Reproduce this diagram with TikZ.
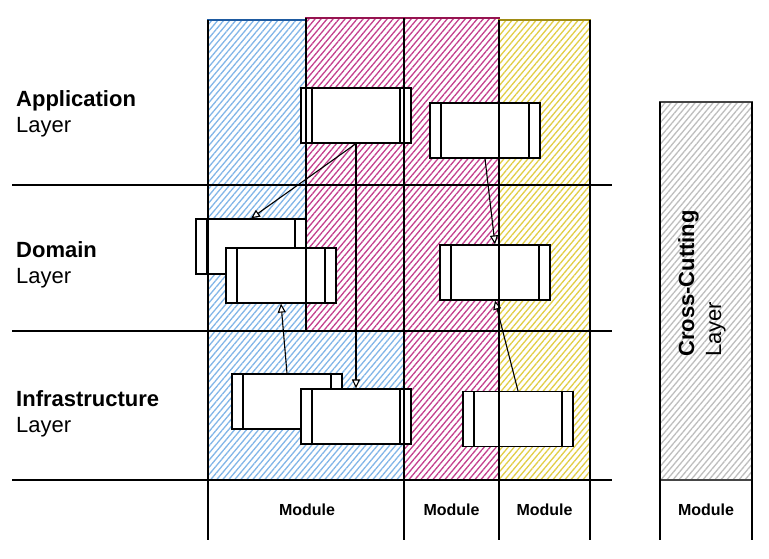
\documentclass[tikz,border=0pt]{standalone}
\usepackage{fontspec}
\setmainfont{Liberation Sans}
\usetikzlibrary{patterns.meta,arrows.meta}
\definecolor{bluehatch}{RGB}{130,182,232}
\definecolor{blueborder}{RGB}{30,90,160}
\definecolor{maghatch}{RGB}{196,64,142}
\definecolor{magborder}{RGB}{150,20,80}
\definecolor{yelhatch}{RGB}{226,206,70}
\definecolor{yelborder}{RGB}{160,140,20}
\definecolor{grayhatch}{RGB}{190,190,190}
\definecolor{grayborder}{RGB}{70,70,70}
\begin{document}
\begin{tikzpicture}[x=1pt,y=-1pt,
  comp/.style={draw=black, line width=1.2pt, fill=white, minimum width=110pt, minimum height=55pt, inner sep=0pt,
    path picture={
      \draw[line width=1.2pt] ([xshift=11pt]path picture bounding box.south west) -- ([xshift=11pt]path picture bounding box.north west);
      \draw[line width=1.2pt] ([xshift=-11pt]path picture bounding box.south east) -- ([xshift=-11pt]path picture bounding box.north east);}},
  dep/.style={line width=1.1pt, -{Triangle[open,length=9pt,width=8pt,fill=white]}},
  gridline/.style={line width=1.1pt, black},
  hatch/.style={pattern={Lines[angle=50,distance=4.6pt,line width=1.3pt]}},
  big/.style={font=\fontsize{22pt}{26pt}\selectfont, inner sep=0pt},
  small/.style={font=\fontsize{16pt}{19pt}\selectfont\bfseries, inner sep=0pt}
]
\useasboundingbox (0,0) rectangle (769,559);
\fill[white] (0,0) rectangle (769,559);

% hatched module regions
\fill[hatch, pattern color=bluehatch] (208,20) -- (306,20) -- (306,331) -- (404,331) -- (404,480) -- (208,480) -- cycle;
\fill[hatch, pattern color=maghatch] (306,18) -- (499,18) -- (499,480) -- (404,480) -- (404,331) -- (306,331) -- cycle;
\fill[hatch, pattern color=yelhatch] (499,20) -- (590,20) -- (590,480) -- (499,480) -- cycle;
\fill[hatch, pattern color=grayhatch] (660,102) -- (752,102) -- (752,480) -- (660,480) -- cycle;

% components
\node[comp] (A1) at (356,115.5) {};
\node[comp] (A2) at (485,130.5) {};
\node[comp] (D1) at (251,246.5) {};
\node[comp] (D2) at (281,275.5) {};
\node[comp] (D3) at (495,272.5) {};
\node[comp] (I1) at (287,401.5) {};
\node[comp] (I2) at (356,416.5) {};
\node[comp] (I3) at (518,419) {};

% dependencies
\draw[dep] (A1.south) -- (D1.north);
\draw[dep] (A1.south) -- (I2.north);
\draw[dep] (A2.south) -- (D3.north);
\draw[dep] (I1.north) -- (D2.south);
\draw[dep] (I3.north) -- (D3.south);

% region borders
\draw[blueborder, line width=1.1pt] (208,20) -- (306,20) -- (306,331) -- (404,331) -- (404,480) -- (208,480) -- cycle;
\draw[magborder, line width=1.1pt] (306,18) -- (499,18) -- (499,480) -- (404,480) -- (404,331) -- (306,331) -- cycle;
\draw[yelborder, line width=1.1pt] (499,20) -- (590,20) -- (590,480) -- (499,480) -- cycle;
\draw[grayborder, line width=1.1pt] (660,102) -- (752,102) -- (752,480) -- (660,480) -- cycle;

% grid lines
\draw[gridline] (12,185) -- (612,185);
\draw[gridline] (12,331) -- (612,331);
\draw[gridline] (12,480) -- (612,480);
\draw[gridline] (208,20) -- (208,540);
\draw[gridline] (306,18) -- (306,331);
\draw[gridline] (404,18) -- (404,540);
\draw[gridline] (499,20) -- (499,540);
\draw[gridline] (590,20) -- (590,540);
\draw[gridline] (660,102) -- (660,540);
\draw[gridline] (752,102) -- (752,540);

% layer labels
\node[big, anchor=base west] (appT) at (16,107) {\bfseries Application};
\node[big, anchor=base west] (appL) at (16,133) {Layer};
\node[big, anchor=base west] (domT) at (16,257) {\bfseries Domain};
\node[big, anchor=base west] (domL) at (16,283) {Layer};
\node[big, anchor=base west] (infT) at (16,406) {\bfseries Infrastructure};
\node[big, anchor=base west] (infL) at (16,432) {Layer};
\node[big, anchor=base west, rotate=90] (ccT) at (694,357) {\bfseries Cross-Cutting};
\node[big, anchor=base west, rotate=90] (ccL) at (721,357) {Layer};

% module labels
\node[small, anchor=base] (m1) at (307,515) {Module};
\node[small, anchor=base] (m2) at (451.5,515) {Module};
\node[small, anchor=base] (m3) at (544.5,515) {Module};
\node[small, anchor=base] (m4) at (706,515) {Module};
\end{tikzpicture}
\end{document}
